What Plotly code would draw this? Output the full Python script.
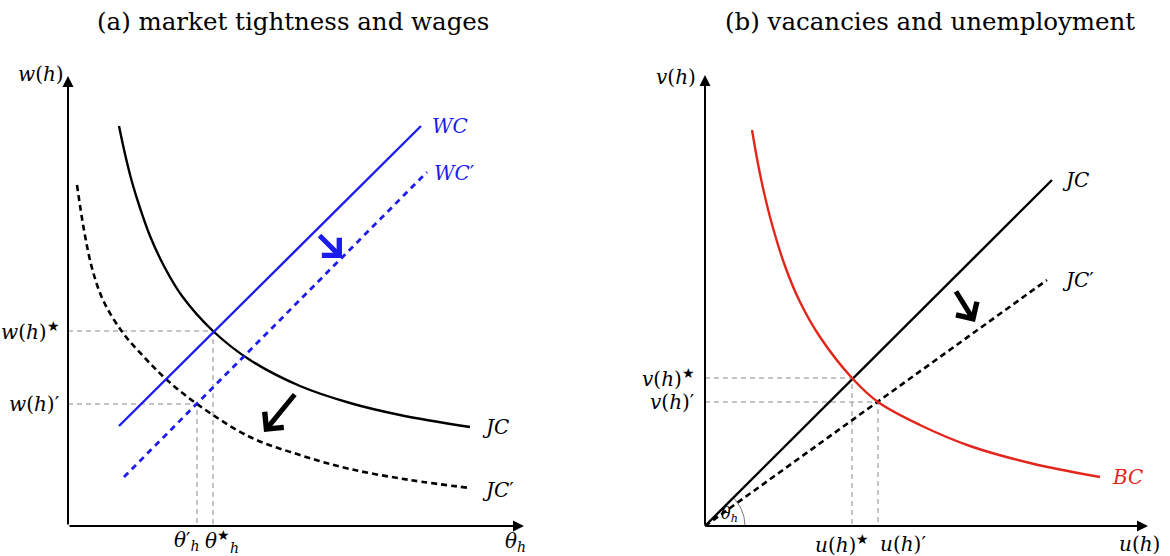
import numpy as np
import plotly.graph_objects as go

# ---------------- data (panel a: market tightness and wages) ----------------
jc_theta = [5.1, 5.7, 6.4, 7.2, 8.2, 9.7, 11.4, 14.5, 18.2, 23.2, 28.2, 33.2, 40.2]
jc_w = [40.0, 37.2, 34.4, 31.8, 29.0, 25.8, 23.0, 19.5, 16.6, 14.0, 12.3, 11.1, 9.9]
jcp_theta = [0.9, 1.6, 2.4, 3.5, 5.5, 7.7, 9.9, 12.9, 18.2, 23.2, 28.2, 34.2, 40.2]
jcp_w = [34.1, 29.6, 25.8, 22.6, 19.3, 16.8, 14.6, 12.2, 8.9, 7.1, 5.7, 4.6, 3.8]
wc_theta = [5.1, 35.3]
wc_w = [10.0, 40.0]
wcp_theta = [5.6, 35.9]
wcp_w = [4.9, 35.4]
theta_star, w_star = 14.5, 19.5
theta_prime, w_prime = 12.9, 12.2

# ---------------- data (panel b: vacancies and unemployment) ----------------
jcb_u = [0.0, 34.7]
jcb_v = [0.0, 34.6]
jcbp_u = [0.0, 34.2]
jcbp_v = [0.0, 24.6]
bc_u = [4.7, 5.5, 6.5, 8.0, 9.5, 11.5, 14.7, 17.3, 21.5, 26.5, 32.5, 39.5]
bc_v = [39.6, 35.2, 30.9, 26.0, 22.4, 18.9, 14.8, 12.4, 10.1, 8.0, 6.3, 4.9]
u_star, v_star = 14.7, 14.8
u_prime, v_prime = 17.3, 12.4

BLUE = "#1c1cf0"
RED = "#e3261c"
GRAY = "#8a8a8a"
FONT = "DejaVu Serif"
STAR = "<sup>★</sup>"

fig = go.Figure()

def line(x, y, xa, ya, color, width, dash=None, shape="linear"):
    fig.add_trace(go.Scatter(x=x, y=y, xaxis=xa, yaxis=ya, mode="lines",
                             line=dict(color=color, width=width, dash=dash, shape=shape),
                             hoverinfo="skip", showlegend=False))

# panel a guides
line([0, theta_star, theta_star], [w_star, w_star, 0], "x", "y", GRAY, 1, "5px,4px")
line([0, theta_prime, theta_prime], [w_prime, w_prime, 0], "x", "y", GRAY, 1, "5px,4px")
# panel a curves
line(jc_theta, jc_w, "x", "y", "black", 2.4, None, "spline")
line(jcp_theta, jcp_w, "x", "y", "black", 2.6, "6px,4px", "spline")
line(wc_theta, wc_w, "x", "y", BLUE, 2.4)
line(wcp_theta, wcp_w, "x", "y", BLUE, 2.8, "6px,5px")

# panel b guides
line([0, u_star, u_star], [v_star, v_star, 0], "x2", "y2", GRAY, 1, "5px,4px")
line([0, u_prime, u_prime], [v_prime, v_prime, 0], "x2", "y2", GRAY, 1, "5px,4px")
# panel b curves
line(jcb_u, jcb_v, "x2", "y2", "black", 2.4)
line(jcbp_u, jcbp_v, "x2", "y2", "black", 2.6, "6px,4px")
line(bc_u, bc_v, "x2", "y2", RED, 2.4, None, "spline")
# angle arc for theta_h
arc_r = 4.0
ang = np.linspace(0, np.arctan2(jcb_v[1], jcb_u[1]), 20)
line(arc_r * np.cos(ang), arc_r * np.sin(ang), "x2", "y2", "#555555", 0.8)

ann = []

def arrow(x, y, ax, ay, xr, yr, color, width, head, size):
    ann.append(dict(x=x, y=y, ax=ax, ay=ay, xref=xr, yref=yr, axref=xr, ayref=yr,
                    showarrow=True, arrowhead=head, arrowsize=size, arrowwidth=width,
                    arrowcolor=color, text=""))

def label(x, y, text, xr, yr, size=20, color="black", xanchor="center", yanchor="middle"):
    ann.append(dict(x=x, y=y, xref=xr, yref=yr, text=text, showarrow=False,
                    font=dict(family=FONT, size=size, color=color),
                    xanchor=xanchor, yanchor=yanchor))

# axes as arrows
arrow(0, 45.0, 0, 0, "x", "y", "black", 2, 2, 1.1)
arrow(45.6, 0, 0, 0, "x", "y", "black", 2, 2, 1.1)
arrow(0, 45.1, 0, 0, "x2", "y2", "black", 2, 2, 1.1)
arrow(44.3, 0, 0, 0, "x2", "y2", "black", 2, 2, 1.1)

# shift arrows
arrow(19.6, 9.4, 22.8, 13.3, "x", "y", "black", 5, 4, 0.95)
arrow(27.4, 26.8, 25.0, 29.2, "x", "y", BLUE, 5, 4, 0.95)
arrow(27.0, 20.4, 25.0, 23.6, "x2", "y2", "black", 5, 4, 0.95)

# panel a labels
label(-2.7, 45.2, "<i>w</i>(<i>h</i>)", "x", "y")
label(-0.6, w_star, "<i>w</i>(<i>h</i>)" + STAR, "x", "y", xanchor="right")
label(-0.6, w_prime, "<i>w</i>(<i>h</i>)′", "x", "y", xanchor="right")
label(theta_prime - 1.0, -1.5, "<i>θ</i>′<sub><i>h</i></sub>", "x", "y")
label(theta_star + 0.9, -1.5, "<i>θ</i>" + STAR + "<sub><i>h</i></sub>", "x", "y")
label(44.7, -1.6, "<i>θ</i><sub><i>h</i></sub>", "x", "y")
label(41.2, jc_w[-1], "<i>JC</i>", "x", "y", xanchor="left")
label(41.2, jcp_w[-1] - 0.2, "<i>JC</i>′", "x", "y", xanchor="left")
label(36.2, wc_w[-1], "<i>WC</i>", "x", "y", color=BLUE, xanchor="left")
label(36.4, wcp_w[-1] - 0.1, "<i>WC</i>′", "x", "y", color=BLUE, xanchor="left")

# panel b labels
label(-2.9, 44.9, "<i>v</i>(<i>h</i>)", "x2", "y2")
label(-0.8, v_star, "<i>v</i>(<i>h</i>)" + STAR, "x2", "y2", xanchor="right")
label(-0.8, v_prime, "<i>v</i>(<i>h</i>)′", "x2", "y2", xanchor="right")
label(u_star - 1.0, -1.8, "<i>u</i>(<i>h</i>)" + STAR, "x2", "y2")
label(u_prime + 2.5, -1.8, "<i>u</i>(<i>h</i>)′", "x2", "y2")
label(43.4, -1.8, "<i>u</i>(<i>h</i>)", "x2", "y2")
label(35.5, jcb_v[-1], "<i>JC</i>", "x2", "y2", xanchor="left")
label(35.5, jcbp_v[-1], "<i>JC</i>′", "x2", "y2", xanchor="left")
label(40.5, bc_v[-1], "<i>BC</i>", "x2", "y2", color=RED, xanchor="left")
label(2.4, 1.2, "<i>θ</i><sub><i>h</i></sub>", "x2", "y2", 16)

# titles
ann.append(dict(x=293 / 1170, y=0.962, xref="paper", yref="paper", showarrow=False,
                text="(a) market tightness and wages", font=dict(family=FONT, size=24.5, color="black"),
                xanchor="center", yanchor="middle"))
ann.append(dict(x=930 / 1170, y=0.962, xref="paper", yref="paper", showarrow=False,
                text="(b) vacancies and unemployment", font=dict(family=FONT, size=24.5, color="black"),
                xanchor="center", yanchor="middle"))

ax_common = dict(visible=False, showgrid=False, zeroline=False, fixedrange=True)
fig.update_layout(
    width=1170, height=556,
    margin=dict(l=0, r=0, t=0, b=0),
    paper_bgcolor="white", plot_bgcolor="white",
    xaxis=dict(domain=[0, 0.5], range=[-6.8, 51.7], **ax_common),
    yaxis=dict(domain=[0, 1], range=[-3.0, 52.6], **ax_common),
    xaxis2=dict(domain=[0.5, 1], range=[-12.0, 46.5], **ax_common),
    yaxis2=dict(domain=[0, 1], range=[-3.0, 52.6], anchor="x2", **ax_common),
    annotations=ann,
    showlegend=False,
)

fig.write_html("out.html")
